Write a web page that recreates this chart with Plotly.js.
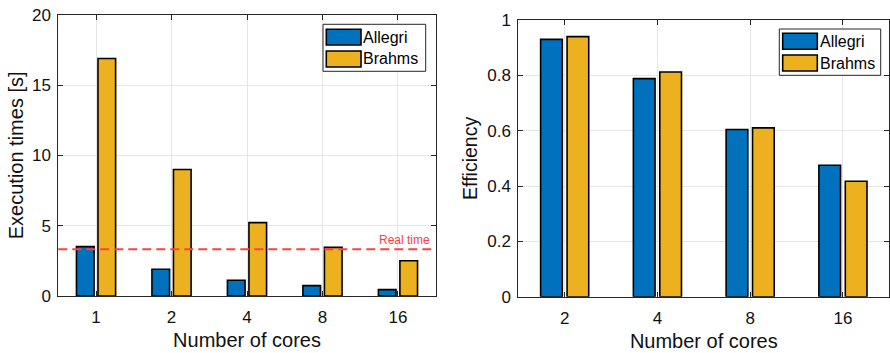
<!DOCTYPE html>
<html>
<head>
<meta charset="utf-8">
<script src="https://cdn.plot.ly/plotly-3.0.1.min.js"></script>
<style>html,body{margin:0;padding:0;background:#fff;}#chart{width:890px;height:353px;}</style>
</head>
<body>
<div id="chart"></div>
<script>
// ---- data ----
const seriesNames = ['Allegri', 'Brahms'];
const seriesColors = ['#0072BD', '#EDB120'];
const coresTime = ['1', '2', '4', '8', '16'];
const allegriTime = [3.51, 1.90, 1.12, 0.74, 0.45];
const brahmsTime = [16.89, 8.99, 5.22, 3.46, 2.51];
const realTime = 3.32;
const coresEff = ['2', '4', '8', '16'];
const allegriEff = [0.930, 0.788, 0.604, 0.475];
const brahmsEff = [0.940, 0.812, 0.610, 0.417];
const yTicksTime = [0, 5, 10, 15, 20];
const yTicksEff = [0, 0.2, 0.4, 0.6, 0.8, 1];
const yTickTextEff = ['0', '0.2', '0.4', '0.6', '0.8', '1'];

const W = 890, H = 353;
const FONT = 'Liberation Sans, Arial, Helvetica, sans-serif';
const ink = '#262626';

function bar(x, y, i, xa, ya) {
  return {type: 'bar', x: x, y: y, name: seriesNames[i], xaxis: xa, yaxis: ya,
    marker: {color: seriesColors[i], line: {color: '#000', width: 1.6}},
    showlegend: false, hoverinfo: 'x+y'};
}

const traces = [
  bar(coresTime, allegriTime, 0, 'x', 'y'),
  bar(coresTime, brahmsTime, 1, 'x', 'y'),
  bar(coresEff, allegriEff, 0, 'x2', 'y2'),
  bar(coresEff, brahmsEff, 1, 'x2', 'y2')
];

function px(x) { return x / W; }
function py(y) { return (H - y) / H; }

const shapes = [
  {type: 'line', xref: 'x domain', yref: 'y', x0: 0, x1: 1, y0: realTime, y1: realTime,
   line: {color: '#FF4040', width: 2, dash: '9px,5px'}}
];
const annotations = [
  {xref: 'x domain', yref: 'y', x: 0.99, y: realTime, yshift: 9, xanchor: 'right', yanchor: 'middle',
   text: 'Real time', showarrow: false, font: {family: FONT, size: 12, color: '#FF4040'}}
];

// custom MATLAB-style legends
function legend(box, sw, txtX, rows) {
  shapes.push({type: 'rect', xref: 'paper', yref: 'paper', x0: px(box[0]), x1: px(box[1]), y0: py(box[3]), y1: py(box[2]),
    fillcolor: '#fff', line: {color: ink, width: 1}, layer: 'above'});
  rows.forEach((r, i) => {
    shapes.push({type: 'rect', xref: 'paper', yref: 'paper', x0: px(sw[0]), x1: px(sw[1]), y0: py(r[1]), y1: py(r[0]),
      fillcolor: seriesColors[i], line: {color: '#000', width: 1.6}, layer: 'above'});
    annotations.push({xref: 'paper', yref: 'paper', x: px(txtX), y: py((r[0] + r[1]) / 2), xanchor: 'left', yanchor: 'middle',
      text: seriesNames[i], showarrow: false, font: {family: FONT, size: 16, color: '#000'}});
  });
}
legend([323, 425.7, 24.3, 71.3], [326.3, 361], 361, [[29.3, 45], [51, 67]]);
legend([779.3, 880.7, 29, 75.3], [782.7, 817.3], 817.5, [[33.3, 49.3], [55, 71]]);

const xcommon = {type: 'category', showline: true, mirror: 'ticks', linecolor: ink, linewidth: 1,
  ticks: 'inside', ticklen: 5, tickcolor: ink, showgrid: true, gridcolor: '#e6e6e6', gridwidth: 1,
  tickfont: {family: FONT, size: 17, color: '#111'}, zeroline: false, ticklabelstandoff: 6,
  title: {text: 'Number of cores', font: {family: FONT, size: 20, color: '#111'}, standoff: 6}};
const ycommon = {showline: true, mirror: 'ticks', linecolor: ink, linewidth: 1,
  ticks: 'inside', ticklen: 5, tickcolor: ink, showgrid: true, gridcolor: '#e6e6e6', gridwidth: 1,
  tickfont: {family: FONT, size: 17, color: '#111'}, zeroline: false, ticklabelstandoff: 3};

const layout = {
  width: W, height: H, margin: {l: 0, r: 0, t: 0, b: 0},
  paper_bgcolor: '#fff', plot_bgcolor: '#fff',
  barmode: 'group', bargap: 0.43, bargroupgap: 0.18,
  showlegend: false,
  xaxis: Object.assign({}, xcommon, {domain: [px(58.3), px(435.7)], anchor: 'y', range: [-0.5, 4.5]}),
  yaxis: Object.assign({}, ycommon, {domain: [py(296), py(14.7)], anchor: 'x', range: [0, 20],
    tickvals: yTicksTime, ticktext: yTicksTime.map(String),
    title: {text: 'Execution times [s]', font: {family: FONT, size: 20, color: '#111'}, standoff: 2}}),
  xaxis2: Object.assign({}, xcommon, {domain: [px(518.3), px(889.3)], anchor: 'y2', range: [-0.5, 3.5]}),
  yaxis2: Object.assign({}, ycommon, {domain: [py(296.7), py(20)], anchor: 'x2', range: [0, 1],
    tickvals: yTicksEff, ticktext: yTickTextEff,
    title: {text: 'Efficiency', font: {family: FONT, size: 19.5, color: '#111'}, standoff: 4}}),
  shapes: shapes,
  annotations: annotations
};

Plotly.newPlot('chart', traces, layout, {displayModeBar: false, staticPlot: true});
</script>
</body>
</html>
